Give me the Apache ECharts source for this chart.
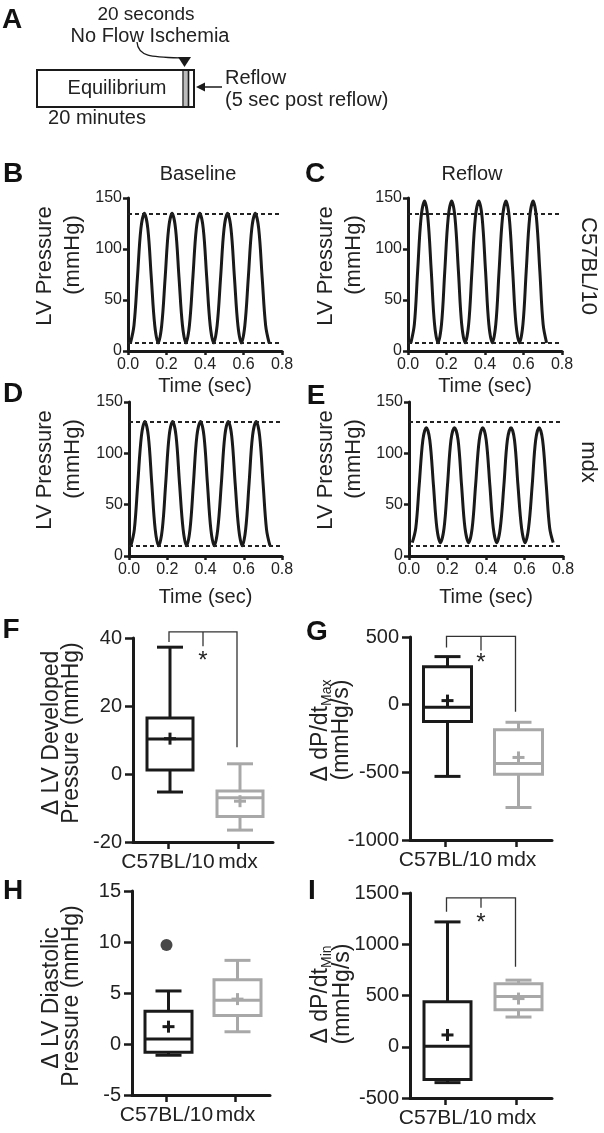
<!DOCTYPE html>
<html><head><meta charset="utf-8">
<script src="https://cdn.jsdelivr.net/npm/echarts@6/dist/echarts.min.js"></script>
<style>html,body{margin:0;padding:0;background:#fff}#c{width:604px;height:1133px}</style>
</head><body><div id="c"></div><script>
const FONT = 'Liberation Sans';
const BLACK = '#1a1a1a', GRAY = '#a8a8a8';

// ---- Waveforms (time sec, LV pressure mmHg) ----
const tB = [0.013,0.031,0.049,0.067,0.085,0.103,0.121,0.139,0.157,0.175,0.193,0.211,0.229,0.247,0.265,0.283,0.301,0.319,0.337,0.355,0.373,0.391,0.409,0.427,0.445,0.463,0.481,0.499,0.517,0.535,0.553,0.571,0.589,0.607,0.625,0.643,0.661,0.679,0.697,0.715,0.733];
const pB = [8,25,72,120,135,120,72,25,8,25,72,120,135,120,72,25,8,25,72,120,135,120,72,25,8,25,72,120,135,120,72,25,8,25,72,120,135,120,72,25,8];
const tC = [0.015,0.033,0.050,0.068,0.086,0.103,0.121,0.138,0.156,0.174,0.191,0.209,0.227,0.244,0.262,0.279,0.297,0.315,0.332,0.350,0.368,0.385,0.403,0.420,0.438,0.456,0.473,0.491,0.509,0.526,0.544,0.561,0.579,0.597,0.614,0.632,0.650,0.667,0.685,0.702,0.720];
const pC = [8,26,78,131,147,131,78,26,8,26,78,131,147,131,78,26,8,26,78,131,147,131,78,26,8,26,78,131,147,131,78,26,8,26,78,131,147,131,78,26,8];
const tD = [0.010,0.028,0.046,0.065,0.083,0.101,0.119,0.137,0.155,0.174,0.192,0.210,0.228,0.246,0.264,0.283,0.301,0.319,0.337,0.355,0.374,0.392,0.410,0.428,0.446,0.464,0.483,0.501,0.519,0.537,0.555,0.574,0.592,0.610,0.628,0.646,0.665,0.683,0.701,0.719,0.737];
const pD = [10,26,71,117,131,117,71,26,10,26,71,117,131,117,71,26,10,26,71,117,131,117,71,26,10,26,71,117,131,117,71,26,10,26,71,117,131,117,71,26,10];
const tE = [0.017,0.035,0.053,0.072,0.090,0.108,0.127,0.145,0.163,0.182,0.200,0.218,0.236,0.255,0.273,0.291,0.310,0.328,0.346,0.365,0.383,0.401,0.420,0.438,0.456,0.474,0.493,0.511,0.530,0.548,0.566,0.585,0.603,0.621,0.640,0.658,0.676,0.694,0.713,0.731,0.749];
const pE = [13,27,69,113,125,113,69,27,13,27,69,113,125,113,69,27,13,27,69,113,125,113,69,27,13,27,69,113,125,113,69,27,13,27,69,113,125,113,69,27,13];
// reference dashed lines [upper, lower]
const refC57 = [135, 8];
const refMdx = [131, 10];
const timeTicks = [0, 0.8, 0.2];
const pressTicks = [0, 150, 50];

// ---- Box plots: [min, Q1, median, Q3, max, mean] ----
const groups = ['C57BL/10', 'mdx'];
const boxF = [[-5.3, 1.2, 10.3, 16.5, 37.3, 10.4], [-16.5, -12.5, -7.0, -5.0, 3.0, -8.0]];
const boxG = [[-530, -125, -20, 280, 355, 30], [-760, -515, -435, -185, -130, -390]];
const boxH = [[-1.1, -0.8, 0.5, 3.2, 5.2, 1.7], [1.2, 2.8, 4.3, 6.3, 8.2, 4.4]];
const boxI = [[-350, -320, 5, 440, 1218, 115], [290, 360, 490, 615, 650, 470]];
const outlierH = [[0, 9.7]];
// significance brackets: [top, left end, middle end, right end, star]
const brF = [41.8, 38.8, 37.6, 7.9, 34.7];
const brG = [504, 422, 400, -52, 340];
const brI = [1452, 1316, 1355, 780, 1257];
// axis ranges [min, max, interval]
const axF = [-20, 40, 20], axG = [-1000, 500, 500], axH = [-5, 15, 5], axI = [-500, 1500, 500];

const zip = (t, p) => t.map((x, i) => [x, p[i]]);

const grids = [
  {left:128, top:198, width:154, height:153},
  {left:408, top:198, width:154, height:153},
  {left:129, top:402, width:153, height:154},
  {left:409, top:402, width:154, height:154},
  {left:133, top:638, width:140, height:204},
  {left:410, top:637, width:142, height:203},
  {left:132, top:891, width:138, height:204},
  {left:410, top:893, width:142, height:205}
];

const axisLine = {show:true, onZero:false, lineStyle:{color:BLACK, width:3}};
const tick = len => ({show:true, length:len, lineStyle:{width:2.5, color:BLACK}});
const xAxes = [], yAxes = [];
[25, 25, 31, 31].forEach((gap, i) => {
  xAxes.push({gridIndex:i, type:'value', min:timeTicks[0], max:timeTicks[1], interval:timeTicks[2],
    axisLine, axisTick:tick(4), splitLine:{show:false},
    axisLabel:{color:'#222', fontFamily:FONT, fontSize:16, margin:6, formatter:v => v.toFixed(1)},
    name:'Time (sec)', nameLocation:'middle', nameGap:gap,
    nameTextStyle:{color:'#222', fontFamily:FONT, fontSize:20, verticalAlign:'top'}});
  yAxes.push({gridIndex:i, type:'value', min:pressTicks[0], max:pressTicks[1], interval:pressTicks[2],
    axisLine, axisTick:tick(5), splitLine:{show:false},
    axisLabel:{color:'#222', fontFamily:FONT, fontSize:16, margin:6}});
});
[axF, axG, axH, axI].forEach((ax, j) => {
  const i = j + 4;
  xAxes.push({gridIndex:i, type:'category', data:groups, boundaryGap:true,
    axisLine, axisTick:{show:true, alignWithLabel:true, length:7, lineStyle:{width:2.5, color:BLACK}},
    axisLabel:{color:'#222', fontFamily:FONT, fontSize:21, margin:10, interval:0}, splitLine:{show:false}});
  yAxes.push({gridIndex:i, type:'value', min:ax[0], max:ax[1], interval:ax[2],
    axisLine, axisTick:tick(8), splitLine:{show:false},
    axisLabel:{color:'#222', fontFamily:FONT, fontSize:20, margin:11, formatter:v => String(v)}});
});

function waveSeries(i, data, ref) {
  return {type:'line', xAxisIndex:i, yAxisIndex:i, data, showSymbol:false, smooth:0.35,
    lineStyle:{color:BLACK, width:3}, silent:true,
    markLine:{silent:true, symbol:['none','none'], label:{show:false},
      lineStyle:{color:'#222', width:1.8, type:[4,3]},
      data:[{yAxis:ref[0]}, {yAxis:ref[1]}]}};
}

function boxSeries(i, stats, boxW) {
  return {type:'custom', xAxisIndex:i, yAxisIndex:i, silent:true,
    encode:{x:0, y:[1,2,3,4,5,6]},
    data: stats.map((s, k) => [k].concat(s)),
    renderItem(params, api) {
      const col = params.dataIndex === 0 ? BLACK : GRAY;
      const k = api.value(0);
      const v = [1,2,3,4,5,6].map(d => api.value(d));
      const y = val => api.coord([k, val])[1];
      const cx = api.coord([k, v[2]])[0] + 2;
      const hw = boxW / 2, hc = 13, pm = 6;
      const st = {stroke:col, lineWidth:3, fill:null};
      return {type:'group', children:[
        {type:'line', shape:{x1:cx, y1:y(v[3]), x2:cx, y2:y(v[4])}, style:st},
        {type:'line', shape:{x1:cx-hc, y1:y(v[4]), x2:cx+hc, y2:y(v[4])}, style:st},
        {type:'line', shape:{x1:cx, y1:y(v[1]), x2:cx, y2:y(v[0])}, style:st},
        {type:'line', shape:{x1:cx-hc, y1:y(v[0]), x2:cx+hc, y2:y(v[0])}, style:st},
        {type:'rect', shape:{x:cx-hw, y:y(v[3]), width:boxW, height:y(v[1])-y(v[3])}, style:{stroke:col, lineWidth:3, fill:'#fff'}},
        {type:'line', shape:{x1:cx-hw, y1:y(v[2]), x2:cx+hw, y2:y(v[2])}, style:st},
        {type:'line', shape:{x1:cx-pm, y1:y(v[5]), x2:cx+pm, y2:y(v[5])}, style:st},
        {type:'line', shape:{x1:cx, y1:y(v[5])-pm, x2:cx, y2:y(v[5])+pm}, style:st}
      ]};
    }};
}

function bracketSeries(i, br) {
  return {type:'custom', xAxisIndex:i, yAxisIndex:i, silent:true, clip:false,
    encode:{x:0, y:[1,2,3,4,5]},
    data:[[0].concat(br)],
    renderItem(params, api) {
      const top = api.value(1), le = api.value(2), me = api.value(3), re = api.value(4), sv = api.value(5);
      const xl = api.coord([0, top])[0] + 1, xr = api.coord([1, top])[0] - 1, xm = (xl + xr) / 2;
      const y = val => api.coord([0, val])[1];
      const s = {stroke:'#333', lineWidth:1.3, fill:null};
      return {type:'group', children:[
        {type:'polyline', shape:{points:[[xl, y(le)], [xl, y(top)], [xr, y(top)], [xr, y(re)]]}, style:s},
        {type:'line', shape:{x1:xm, y1:y(top), x2:xm, y2:y(me)}, style:s},
        {type:'text', x:xm, y:y(sv) + 5, style:{text:'*', fontSize:24, fontFamily:FONT, fill:'#222', align:'center', verticalAlign:'middle'}}
      ]};
    }};
}

const series = [
  waveSeries(0, zip(tB, pB), refC57),
  waveSeries(1, zip(tC, pC), refC57),
  waveSeries(2, zip(tD, pD), refMdx),
  waveSeries(3, zip(tE, pE), refMdx),
  boxSeries(4, boxF, 46), bracketSeries(4, brF),
  boxSeries(5, boxG, 48), bracketSeries(5, brG),
  boxSeries(6, boxH, 47),
  {type:'scatter', xAxisIndex:6, yAxisIndex:6, data:outlierH, symbol:'circle', symbolSize:12, itemStyle:{color:BLACK}, silent:true},
  boxSeries(7, boxI, 47), bracketSeries(7, brI)
];

// ---- text / diagram graphics ----
const T = (text, x, y, size, opts = {}) => ({type:'text', x, y, rotation:opts.rot || 0, silent:true,
  style:{text, fontSize:size, fontFamily:FONT, fontWeight:opts.bold ? 'bold' : 'normal', fill:opts.fill || '#222',
    align:opts.align || 'center', verticalAlign:'middle'}});
const R90 = {rot:Math.PI / 2};
const letters = [['A',12,20],['B',13,174],['C',315,174],['D',13,394],['E',316,396],['F',11,630],['G',317,632],['H',13,891],['I',312,891]];
const graphics = letters.map(l => T(l[0], l[1], l[2], 28, {bold:true, fill:'#111'}));

graphics.push(
  T('20 seconds', 146, 15, 19),
  T('No Flow Ischemia', 150, 36, 20),
  {type:'rect', shape:{x:37, y:70, width:157, height:37}, style:{stroke:BLACK, lineWidth:2, fill:'#fff'}, silent:true},
  {type:'rect', shape:{x:183.5, y:71, width:4.5, height:35}, style:{fill:'#bbbbbb'}, silent:true},
  {type:'line', shape:{x1:183, y1:70, x2:183, y2:107}, style:{stroke:BLACK, lineWidth:1.3}, silent:true},
  {type:'line', shape:{x1:188.5, y1:70, x2:188.5, y2:107}, style:{stroke:BLACK, lineWidth:1.6}, silent:true},
  T('Equilibrium', 117, 88, 20),
  T('20 minutes', 97, 118, 20),
  {type:'bezierCurve', shape:{x1:137, y1:42, cpx1:138, cpy1:57, cpx2:152, cpy2:57, x2:182, y2:58}, style:{stroke:BLACK, lineWidth:1.3, fill:null}, silent:true},
  {type:'polygon', shape:{points:[[178,57],[191,57],[184.5,67]]}, style:{fill:BLACK}, silent:true},
  {type:'line', shape:{x1:222, y1:87, x2:203, y2:87}, style:{stroke:BLACK, lineWidth:1.5}, silent:true},
  {type:'polygon', shape:{points:[[196,87],[205,82.5],[205,91.5]]}, style:{fill:BLACK}, silent:true},
  T('Reflow', 225, 78, 20, {align:'left'}),
  T('(5 sec post reflow)', 225, 100, 20, {align:'left'}),
  T('Baseline', 198, 174, 20),
  T('Reflow', 472, 174, 20),
  T('C57BL/10', 588, 266, 22, {rot:-Math.PI / 2}),
  T('mdx', 588, 462, 22, {rot:-Math.PI / 2}),
  // wave y titles
  T('LV Pressure', 45, 266, 22, R90), T('(mmHg)', 73, 255, 22, R90),
  T('LV Pressure', 326, 266, 22, R90), T('(mmHg)', 354, 255, 22, R90),
  T('LV Pressure', 45, 470, 22, R90), T('(mmHg)', 73, 459, 22, R90),
  T('LV Pressure', 326, 470, 22, R90), T('(mmHg)', 354, 459, 22, R90),
  // box y titles
  T('Δ LV Developed', 52, 733, 23, R90), T('Pressure (mmHg)', 72, 733, 23, R90),
  T('Δ LV Diastolic', 52, 998, 23, R90), T('Pressure (mmHg)', 72, 996, 23, R90),
  T('Δ dP/dt', 321, 706, 23, {rot:Math.PI / 2, align:'right'}),
  {type:'text', x:327, y:706, rotation:Math.PI / 2, silent:true, style:{text:'Max', fontSize:14, fontFamily:FONT, fill:'#222', align:'left', verticalAlign:'middle'}},
  T('(mmHg/s)', 342, 730, 23, R90),
  T('Δ dP/dt', 321, 968, 23, {rot:Math.PI / 2, align:'right'}),
  {type:'text', x:327, y:968, rotation:Math.PI / 2, silent:true, style:{text:'Min', fontSize:14, fontFamily:FONT, fill:'#222', align:'left', verticalAlign:'middle'}},
  T('(mmHg/s)', 343, 994, 23, R90)
);

const chart = echarts.init(document.getElementById('c'), null, {renderer:'canvas'});
chart.setOption({
  animation:false, backgroundColor:'#fff',
  textStyle:{fontFamily:FONT},
  grid:grids, xAxis:xAxes, yAxis:yAxes, series, graphic:graphics
});
</script></body></html>
